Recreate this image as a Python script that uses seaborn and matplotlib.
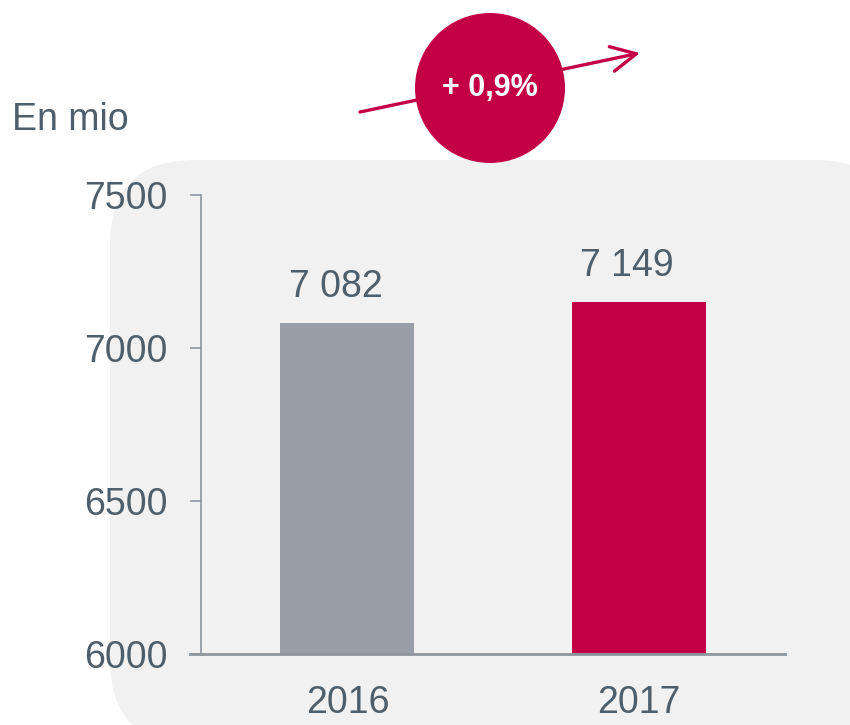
import numpy as np
import pandas as pd
import matplotlib.pyplot as plt
import seaborn as sns
from matplotlib.patches import FancyBboxPatch, FancyArrowPatch, Circle

# data
years = ['2016', '2017']
values = [7082, 7149]
value_labels = ['7 082', '7 149']
colors = ['#989fa9', '#c30045']
growth_label = '+ 0,9%'

sns.set_style('white')
plt.rcParams['font.family'] = ['Liberation Sans', 'DejaVu Sans']
txt_color = '#4e5f6b'

df = pd.DataFrame({'Year': years, 'Value': values})

fig = plt.figure(figsize=(8.5, 7.25), dpi=100)
fig.patch.set_facecolor('white')

# rounded grey background panel
bg = FancyBboxPatch((1.1, -0.2), 7.9, 5.85, boxstyle='round,pad=0,rounding_size=0.85',
                    transform=fig.dpi_scale_trans, facecolor='#f1f1f1', edgecolor='none', zorder=-1)
fig.patches.append(bg)

ax = fig.add_axes([190/850, 1 - 654/725, 595/850, 459/725])
ax.set_zorder(1)
ax.set_facecolor('none')
sns.barplot(data=df, x='Year', y='Value', hue='Year', palette=colors, legend=False,
            width=0.46, saturation=1, linewidth=0, ax=ax)

ax.set_ylim(6000, 7500)
ax.set_xlim(-0.54, 1.501)
ax.set_yticks([6000, 6500, 7000, 7500])
ax.set_xlabel('')
ax.set_ylabel('')

for s in ['top', 'right']:
    ax.spines[s].set_visible(False)
ax.spines['left'].set_position(('data', -0.502))
ax.spines['left'].set_color('#8e959d')
ax.spines['left'].set_linewidth(1.2)
ax.spines['bottom'].set_color('#8e959d')
ax.spines['bottom'].set_linewidth(2)

ax.tick_params(axis='y', left=True, length=8, width=1.2, color='#8e959d', pad=16,
               labelsize=27, labelcolor=txt_color)
ax.tick_params(axis='x', bottom=False, length=0, pad=22, labelsize=27, labelcolor=txt_color)

for i, (v, lab) in enumerate(zip(values, value_labels)):
    ax.text(i - 0.04, v + 60, lab, ha='center', va='bottom', fontsize=27, color=txt_color)

fig.text(12/850, 1 - 120/725, 'En mio', ha='left', va='center', fontsize=27, color=txt_color)

# growth arrow + circle
arrow = FancyArrowPatch((3.6, 6.13), (6.4, 6.72), arrowstyle='->,head_length=0.9,head_width=0.45',
                        mutation_scale=20, transform=fig.dpi_scale_trans, color='#c30045',
                        linewidth=2.4, shrinkA=0, shrinkB=0, zorder=2)
fig.patches.append(arrow)
circ = Circle((4.9, 6.37), 0.75, transform=fig.dpi_scale_trans, facecolor='#c30045',
              edgecolor='none', zorder=3)
fig.patches.append(circ)
fig.text(4.9/8.5, 6.37/7.25, growth_label, ha='center', va='center', fontsize=22,
         fontweight='bold', color='white', zorder=4)

fig.savefig('out.png', dpi=100)
